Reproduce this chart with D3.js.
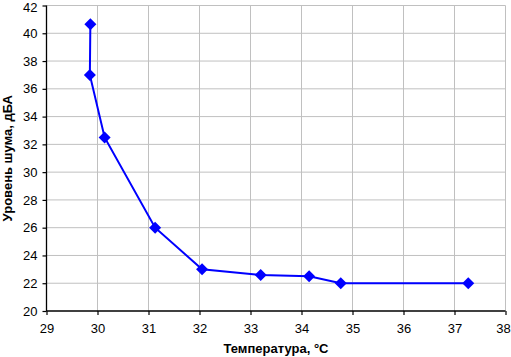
<!DOCTYPE html>
<html><head><meta charset="utf-8">
<script src="https://cdn.jsdelivr.net/npm/d3@7"></script>
<style>body{margin:0;background:#fff}svg{display:block}text{font-family:"Liberation Sans",Arial,sans-serif}</style>
</head><body><svg id="c" width="511" height="357"></svg>
<script>
const temps = [29.86, 29.85, 30.14, 31.13, 32.05, 33.2, 34.15, 34.77, 37.27];
const noise = [40.65, 37.0, 32.5, 26.0, 23.0, 22.6, 22.5, 22.0, 22.0];
const xTicks = [29,30,31,32,33,34,35,36,37,38];
const yTicks = [20,22,24,26,28,30,32,34,36,38,40,42];
const xTitle = "Температура, °C";
const yTitle = "Уровень шума, дБА";

const svg = d3.select("#c");
const L=46.5, R=505.5, T=5.5, B=311;
const x = d3.scaleLinear().domain([29,38]).range([L,R]);
const y = d3.scaleLinear().domain([20,42]).range([B,T]);

// grid
svg.append("g").selectAll("line").data(xTicks.slice(1)).join("line")
  .attr("x1",d=>x(d)).attr("x2",d=>x(d)).attr("y1",T).attr("y2",B)
  .attr("stroke","#c0c0c0").attr("stroke-width",1);
svg.append("g").selectAll("line").data(yTicks.slice(1)).join("line")
  .attr("x1",L).attr("x2",R).attr("y1",d=>y(d)).attr("y2",d=>y(d))
  .attr("stroke","#c0c0c0").attr("stroke-width",1);

// axes
const xa = svg.append("g").attr("transform",`translate(0,${B})`)
  .call(d3.axisBottom(x).tickValues(xTicks).tickSize(4).tickPadding(9).tickFormat(d3.format("d")));
const ya = svg.append("g").attr("transform",`translate(${L},0)`)
  .call(d3.axisLeft(y).tickValues(yTicks).tickSize(4).tickPadding(5).tickFormat(d3.format("d")));
[xa,ya].forEach(a=>{
  a.select(".domain").attr("stroke","#000").attr("stroke-width",1.3);
  a.selectAll(".tick line").attr("stroke","#000").attr("stroke-width",1.2);
  a.selectAll("text").attr("font-size",13).attr("fill","#000").attr("font-family","Liberation Sans, Arial, sans-serif");
});
xa.select(".domain").attr("d",`M${L},0H${R}`);
ya.select(".domain").attr("d",`M0,${B}V${T}`);
// keep edge labels inside the canvas
xa.selectAll(".tick").filter(d=>d===38).select("text").attr("dx",-2.5);
ya.selectAll(".tick").filter(d=>d===42).select("text").attr("dy","0.32em").attr("y",1.5);

// line
const pts = temps.map((t,i)=>[t,noise[i]]);
svg.append("path").datum(pts)
  .attr("d",d3.line().x(d=>x(d[0])).y(d=>y(d[1])))
  .attr("fill","none").attr("stroke","#0000ff").attr("stroke-width",2);
svg.append("g").selectAll("path").data(pts).join("path")
  .attr("transform",d=>`translate(${x(d[0])},${y(d[1])})`)
  .attr("d","M0,-6L6,0L0,6L-6,0Z").attr("fill","#0000ff");

// titles
svg.append("text").attr("x",(L+R)/2).attr("y",353).attr("text-anchor","middle")
  .attr("font-size",13).attr("font-weight","bold").text(xTitle);
svg.append("text").attr("transform",`translate(12,${(T+B)/2}) rotate(-90)`).attr("text-anchor","middle")
  .attr("font-size",13).attr("font-weight","bold").text(yTitle);
</script></body></html>
